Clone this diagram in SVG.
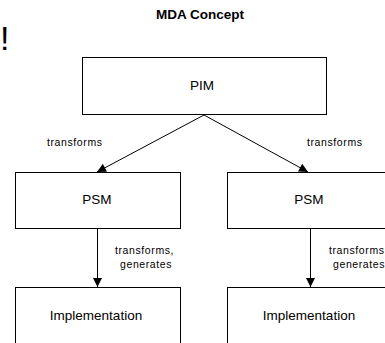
<svg xmlns="http://www.w3.org/2000/svg" width="385" height="343" viewBox="0 0 385 343">
  <style>
    .box { fill: #ffffff; stroke: #000000; stroke-width: 1; }
    .name { font-family: "Liberation Sans", Arial, sans-serif; font-size: 13.5px; fill: #000000; text-anchor: middle; }
    .lbl { font-family: "Liberation Sans", Arial, sans-serif; font-size: 10.5px; fill: #000000; letter-spacing: 0.6px; }
    .edge { stroke: #000000; stroke-width: 1; fill: none; marker-end: url(#head); }
  </style>
  <defs>
    <marker id="head" viewBox="0 0 10 10" refX="10" refY="5" markerWidth="10" markerHeight="9" markerUnits="userSpaceOnUse" orient="auto">
      <path d="M0,0 L10,5 L0,10 Z" fill="#000000"/>
    </marker>
  </defs>
  <rect width="385" height="343" fill="#ffffff"/>

  <text x="200" y="19" font-family="'Liberation Sans', Arial, sans-serif" font-size="13.5" font-weight="bold" text-anchor="middle">MDA Concept</text>
  <text x="0" y="50" font-family="'Liberation Sans', Arial, sans-serif" font-size="34">!</text>

  <g id="connectors">
    <line class="edge" x1="204" y1="115" x2="97" y2="172"/>
    <line class="edge" x1="204" y1="115" x2="308" y2="172"/>
    <line class="edge" x1="97.5" y1="229" x2="97.5" y2="287"/>
    <line class="edge" x1="310.5" y1="229" x2="310.5" y2="287"/>
    <text class="lbl" x="47" y="146">transforms</text>
    <text class="lbl" x="307" y="146">transforms</text>
    <text class="lbl" x="115" y="254">transforms,</text>
    <text class="lbl" x="120" y="268">generates</text>
    <text class="lbl" x="329" y="254">transforms,</text>
    <text class="lbl" x="333" y="268">generates</text>
  </g>

  <g id="pim">
    <rect class="box" x="82.5" y="57.5" width="244" height="57"/>
    <text class="name" x="202" y="90">PIM</text>
  </g>
  <g id="psm-left">
    <rect class="box" x="15.5" y="172.5" width="165" height="56"/>
    <text class="name" x="97" y="204">PSM</text>
  </g>
  <g id="psm-right">
    <rect class="box" x="227.5" y="172.5" width="165" height="56"/>
    <text class="name" x="309" y="204">PSM</text>
  </g>
  <g id="impl-left">
    <rect class="box" x="15.5" y="287.5" width="165" height="70"/>
    <text class="name" x="96" y="320">Implementation</text>
  </g>
  <g id="impl-right">
    <rect class="box" x="227.5" y="287.5" width="165" height="70"/>
    <text class="name" x="309" y="320">Implementation</text>
  </g>
</svg>
